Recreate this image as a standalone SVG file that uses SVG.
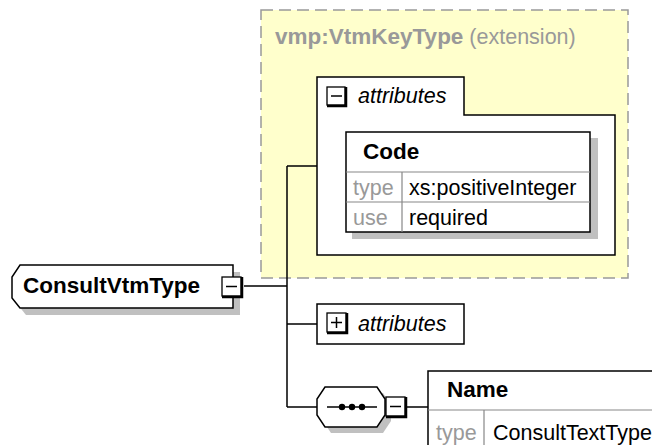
<svg xmlns="http://www.w3.org/2000/svg" width="652" height="445" viewBox="0 0 652 445">
<style>
text{font-family:"Liberation Sans",Arial,sans-serif;fill:#000}
.b{font-weight:bold}
.it{font-style:italic}
.g{fill:#999}
.t{font-size:21.5px}
.bt{font-size:22.5px;font-weight:bold}
.box{fill:#fff;stroke:#000;stroke-width:1.5}
.sh{fill:#c0c0c0}
.in{stroke:#888;stroke-width:1.2;fill:none}
.con{stroke:#000;stroke-width:1.5;fill:none}
.tg{fill:#fff;stroke:#000;stroke-width:1.3}
.tge{stroke:#000;stroke-width:2.5;fill:none}
</style>
<g id="extension">
<rect x="261" y="10" width="367" height="268" fill="#ffffcc" stroke="#999" stroke-width="1.5" stroke-dasharray="12,6"/>
<text x="275" y="44" class="t g"><tspan class="b" font-size="22.5">vmp:VtmKeyType</tspan> (extension)</text>
</g>
<g id="attributes-expanded">
<path class="box" d="M317,77 H464 V115 H615 V255 H317 Z"/>
<rect class="tg" x="327" y="87" width="18" height="18"/>
<path class="tge" d="M346,87 V106 H327"/>
<line x1="331" y1="96" x2="342" y2="96" stroke="#000" stroke-width="1.5"/>
<text x="358" y="103" class="t it">attributes</text>
</g>
<g id="Code">
<rect class="sh" x="352" y="138" width="246" height="101"/>
<rect class="box" x="346" y="132" width="244" height="100"/>
<path class="in" d="M346,172 H590 M346,202 H590 M402,172 V232"/>
<text x="363" y="159" class="bt">Code</text>
<text x="353" y="195" class="t g">type</text>
<text x="409" y="195" class="t">xs:positiveInteger</text>
<text x="353" y="225" class="t g">use</text>
<text x="409" y="225" class="t">required</text>
</g>
<g id="ConsultVtmType">
<path class="sh" d="M26,272 H240 V315 H26 L18,305 V284 Z"/>
<path class="box" d="M20,265 H233 V308 H20 L12,298 V277 Z"/>
<text x="23" y="293" class="bt">ConsultVtmType</text>
<rect class="tg" x="222" y="277" width="19" height="19"/>
<path class="tge" d="M242,277 V297 H222"/>
<line x1="226" y1="286.5" x2="237" y2="286.5" stroke="#000" stroke-width="1.5"/>
</g>
<g id="attributes-collapsed">
<rect class="box" x="317" y="304" width="147" height="40"/>
<rect class="tg" x="327" y="313" width="19" height="19"/>
<path class="tge" d="M347,313 V333 H327"/>
<path d="M331,322.5 H342 M336.5,317 V328" stroke="#000" stroke-width="1.5"/>
<text x="358" y="331" class="t it">attributes</text>
</g>
<g id="sequence">
<path class="sh" d="M331,393 H383 L391,405 V421 L383,433 H331 L323,421 V405 Z"/>
<path class="box" d="M325,387 H377 L385,399 V415 L377,427 H325 L317,415 V399 Z"/>
<line x1="327" y1="407" x2="377" y2="407" stroke="#000" stroke-width="1.5"/>
<circle cx="342" cy="407" r="3.2"/>
<circle cx="352" cy="407" r="3.2"/>
<circle cx="362" cy="407" r="3.2"/>
<rect class="tg" x="386" y="397" width="19" height="19"/>
<path class="tge" d="M406,397 V417 H386"/>
<line x1="390" y1="406.5" x2="401" y2="406.5" stroke="#000" stroke-width="1.5"/>
</g>
<g id="Name">
<rect class="box" x="428" y="371" width="240" height="100"/>
<path class="in" d="M428,410 H652 M484,410 V445"/>
<text x="447" y="397" class="bt">Name</text>
<text x="436" y="440" class="t g">type</text>
<text x="493" y="440" class="t">ConsultTextType</text>
</g>
<g id="connectors">
<path class="con" d="M244,286 H287 M287,166 V407 M287,166 H317 M287,324 H317 M287,407 H317 M407,407 H428"/>
</g>
</svg>
